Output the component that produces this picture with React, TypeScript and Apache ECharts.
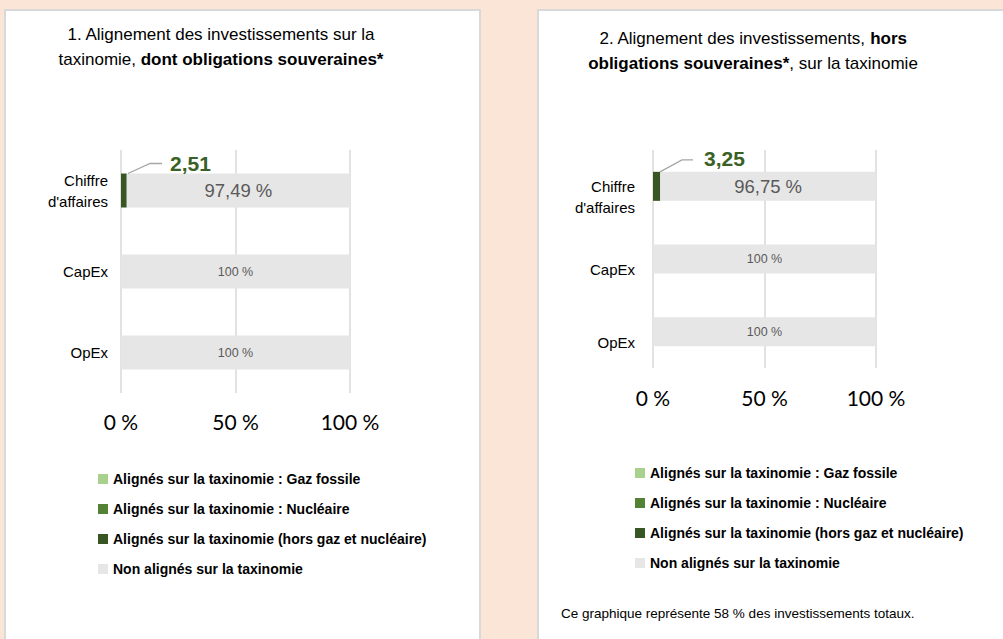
import React, { useEffect, useRef } from "react";
import * as echarts from "echarts";

// ---------- DATA ----------
const categories = ["Chiffre\nd'affaires", "CapEx", "OpEx"];
const seriesNames = [
  "Alignés sur la taxinomie : Gaz fossile",
  "Alignés sur la taxinomie : Nucléaire",
  "Alignés sur la taxinomie (hors gaz et nucléaire)",
  "Non alignés sur la taxinomie",
];
const seriesColors = ["#a9d18e", "#548235", "#375623", "#e7e6e6"];

// Chart 1 : dont obligations souveraines
const c1Gaz = [0, 0, 0];
const c1Nuc = [0, 0, 0];
const c1Hors = [2.51, 0, 0];
const c1Non = [97.49, 100, 100];

// Chart 2 : hors obligations souveraines
const c2Gaz = [0, 0, 0];
const c2Nuc = [0, 0, 0];
const c2Hors = [3.25, 0, 0];
const c2Non = [96.75, 100, 100];

const xTicks = [0, 50, 100];

const title1 = ["1. Alignement des investissements sur la", "taxinomie, ", "dont obligations souveraines*"];
const title2 = ["2. Alignement des investissements, ", "hors", "obligations souveraines*", ", sur la taxinomie"];
const footnote = "Ce graphique représente 58 % des investissements totaux.";

// ---------- HELPERS ----------
const ARIAL = "'Liberation Sans', Arial, sans-serif";
const CALIBRI = "Lato, 'Open Sans', sans-serif";

const frNum = (v: number) =>
  Number.isInteger(v) ? String(v) : v.toFixed(2).replace(".", ",");

function buildSeries(
  gi: number,
  vals: number[][],
  barWidth: number,
  alignedLabelPos: number[]
) {
  const stack = "s" + gi;
  return vals.map((arr, si) => {
    const base: any = {
      type: "bar",
      name: seriesNames[si],
      xAxisIndex: gi,
      yAxisIndex: gi,
      stack,
      barWidth,
      itemStyle: { color: seriesColors[si] },
      emphasis: { disabled: true },
      silent: true,
    };
    if (si === 2) {
      base.data = arr.map((v) =>
        v > 0
          ? {
              value: v,
              label: {
                show: true,
                position: alignedLabelPos,
                formatter: () => frNum(v),
                fontFamily: ARIAL,
                fontWeight: "bold",
                fontSize: 21,
                color: "#3a6125",
              },
            }
          : v
      );
    } else if (si === 3) {
      base.data = arr.map((v, i) => ({
        value: v,
        label: {
          show: true,
          position: "inside",
          formatter: () => frNum(v) + " %",
          fontFamily: ARIAL,
          fontSize: i === 0 ? 18.5 : 12.5,
          color: "#595959",
        },
      }));
    } else {
      base.data = arr;
    }
    return base;
  });
}

function axisPair(gi: number, labelMargin: number, catMargin: number, shiftDown: boolean) {
  const x = {
    type: "value",
    gridIndex: gi,
    min: xTicks[0],
    max: xTicks[xTicks.length - 1],
    interval: xTicks[1] - xTicks[0],
    axisLine: { show: false },
    axisTick: { show: false },
    splitLine: { show: true, lineStyle: { color: "#d9d9d9", width: 1.5 } },
    axisLabel: {
      margin: labelMargin,
      fontFamily: CALIBRI,
      fontSize: 21,
      color: "#000",
      formatter: (v: number) => v + " %",
    },
  };
  const y = {
    type: "category",
    gridIndex: gi,
    data: categories,
    inverse: true,
    axisLine: { show: false },
    axisTick: { show: false },
    axisLabel: {
      margin: catMargin,
      fontFamily: ARIAL,
      fontSize: 15,
      lineHeight: 21,
      color: "#000",
      formatter: (v: string) => (shiftDown ? "\n" + v : v),
    },
  };
  return { x, y };
}

export default function App() {
  const ref = useRef<HTMLDivElement>(null);

  useEffect(() => {
    if (!ref.current) return;
    const chart = echarts.init(ref.current, undefined, { renderer: "svg" });

    const a1 = axisPair(0, 18, 13, false);
    const a2 = axisPair(1, 19, 18, true);

    const BW1 = 34;
    const BW2 = 29;

    const legendBase = {
      orient: "vertical",
      padding: 0,
      icon: "rect",
      itemWidth: 10,
      itemHeight: 10,
      itemGap: 14,
      selectedMode: false,
      data: seriesNames,
      textStyle: { fontFamily: ARIAL, fontWeight: "bold", fontSize: 14, lineHeight: 16, color: "#000" },
    };

    const option: any = {
      animation: false,
      backgroundColor: "#fbe5d6",
      grid: [
        { left: 121, top: 150, width: 229, height: 243 },
        { left: 653, top: 150, width: 223, height: 218 },
      ],
      xAxis: [a1.x, a2.x],
      yAxis: [a1.y, a2.y],
      legend: [
        { ...legendBase, left: 98, top: 471 },
        { ...legendBase, left: 635, top: 465 },
      ],
      series: [
        ...buildSeries(0, [c1Gaz, c1Nuc, c1Hors, c1Non], BW1, [49, -21]),
        ...buildSeries(1, [c2Gaz, c2Nuc, c2Hors, c2Non], BW2, [51, -24]),
      ],
    };
    chart.setOption(option);

    // leader lines computed through the chart's own coordinate system
    const leader = (gi: number, bw: number, rise: number, len: number) => {
      const p = chart.convertToPixel({ gridIndex: gi }, [0, 0]) as number[];
      const top = p[1] - bw / 2;
      return {
        type: "polyline",
        silent: true,
        shape: {
          points: [
            [p[0] + 7, top],
            [p[0] + 29, top - rise],
            [p[0] + len, top - rise],
          ],
        },
        style: { stroke: "#a6a6a6", lineWidth: 1.3, fill: null },
        z: 5,
      };
    };

    const richTitle = {
      n: { fontFamily: ARIAL, fontSize: 17, lineHeight: 25, fill: "#000" },
      b: { fontFamily: ARIAL, fontSize: 17, lineHeight: 25, fontWeight: "bold", fill: "#000" },
    };

    chart.setOption({
      graphic: [
        {
          type: "rect",
          z: -10,
          silent: true,
          shape: { x: 5, y: 10, width: 475, height: 650 },
          style: { fill: "#ffffff", stroke: "#d9d9d9", lineWidth: 2 },
        },
        {
          type: "rect",
          z: -10,
          silent: true,
          shape: { x: 538, y: 10, width: 480, height: 650 },
          style: { fill: "#ffffff", stroke: "#d9d9d9", lineWidth: 2 },
        },
        {
          type: "text",
          silent: true,
          style: {
            x: 221,
            y: 47,
            align: "center",
            verticalAlign: "middle",
            text: `{n|${title1[0]}}\n{n|${title1[1]}}{b|${title1[2]}}`,
            rich: richTitle,
          },
        },
        {
          type: "text",
          silent: true,
          style: {
            x: 753,
            y: 51,
            align: "center",
            verticalAlign: "middle",
            text: `{n|${title2[0]}}{b|${title2[1]}}\n{b|${title2[2]}}{n|${title2[3]}}`,
            rich: richTitle,
          },
        },
        {
          type: "text",
          silent: true,
          style: {
            x: 561,
            y: 613,
            verticalAlign: "middle",
            text: footnote,
            fontFamily: ARIAL,
            fontSize: 13.5,
            fill: "#000",
          },
        },
        leader(0, BW1, 10, 41),
        leader(1, BW2, 12, 40),
      ],
    });

    return () => chart.dispose();
  }, []);

  return (
    <div
      ref={ref}
      style={{ position: "fixed", left: 0, top: 0, width: 1003, height: 639 }}
    />
  );
}
